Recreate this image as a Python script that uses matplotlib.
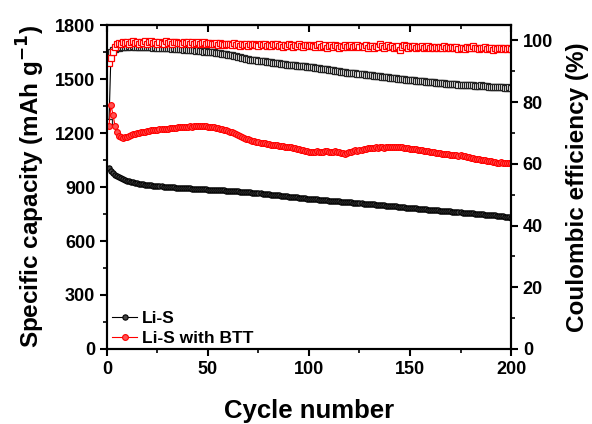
import numpy as np
import matplotlib
matplotlib.use("Agg")
import matplotlib.pyplot as plt
from matplotlib.ticker import MultipleLocator

plt.rcParams["font.family"] = ["Liberation Sans", "DejaVu Sans"]
plt.rcParams["font.weight"] = "bold"
plt.rcParams["mathtext.default"] = "bf"

cycles = np.arange(1, 201)

# discharge capacity, Li-S (mAh/g)
cap_lis = [
    1005, 990, 978, 968, 960, 953, 948, 943, 939, 935,
    932, 929, 926, 924, 921, 919, 917, 915, 913, 912,
    911, 909, 908, 906, 905, 904, 903, 902, 901, 900,
    899, 898, 898, 897, 896, 895, 895, 894, 893, 893,
    892, 891, 891, 890, 889, 889, 888, 887, 887, 886,
    885, 885, 884, 884, 883, 882, 882, 881, 880, 880,
    879, 878, 878, 877, 876, 875, 874, 873, 872, 871,
    870, 869, 868, 867, 866, 865, 863, 862, 861, 860,
    858, 857, 856, 855, 853, 852, 851, 849, 848, 847,
    846, 844, 843, 842, 841, 840, 838, 837, 836, 835,
    834, 833, 832, 831, 830, 829, 828, 827, 826, 825,
    824, 823, 822, 821, 820, 819, 818, 817, 816, 815,
    814, 813, 812, 811, 810, 809, 808, 807, 806, 805,
    804, 803, 802, 801, 800, 799, 798, 797, 796, 795,
    794, 793, 792, 791, 790, 789, 788, 786, 785, 784,
    783, 782, 781, 780, 779, 778, 777, 776, 775, 774,
    773, 772, 771, 770, 769, 768, 767, 766, 765, 764,
    763, 762, 761, 760, 759, 758, 757, 756, 755, 754,
    753, 752, 751, 750, 749, 748, 747, 746, 745, 744,
    743, 742, 741, 740, 739, 737, 736, 734, 732, 730,
]

# discharge capacity, Li-S with BTT (mAh/g)
cap_btt = [
    1240, 1355, 1300, 1240, 1205, 1185, 1176, 1174, 1176, 1180,
    1184, 1188, 1192, 1195, 1198, 1201, 1203, 1206, 1208, 1210,
    1212, 1214, 1215, 1217, 1218, 1220, 1221, 1222, 1224, 1225,
    1226, 1228, 1229, 1230, 1231, 1233, 1232, 1234, 1235, 1236,
    1237, 1236, 1238, 1239, 1238, 1240, 1239, 1237, 1238, 1236,
    1235, 1233, 1231, 1229, 1227, 1224, 1221, 1218, 1215, 1211,
    1207, 1203, 1198, 1194, 1189, 1184, 1179, 1174, 1169, 1164,
    1160, 1157, 1154, 1151, 1149, 1146, 1144, 1142, 1140, 1138,
    1136, 1135, 1133, 1131, 1130, 1128, 1127, 1125, 1123, 1121,
    1120, 1118, 1116, 1113, 1110, 1107, 1104, 1101, 1099, 1097,
    1095, 1093, 1096, 1098, 1095, 1092, 1095, 1098, 1100, 1097,
    1094, 1096, 1099, 1097, 1093, 1090, 1087, 1086, 1088, 1092,
    1096, 1100, 1103, 1101, 1105, 1108, 1112, 1110, 1114, 1117,
    1115, 1118, 1120, 1118, 1120, 1122, 1119, 1123, 1121, 1124,
    1122, 1125, 1123, 1121, 1124, 1120, 1118, 1115, 1117, 1113,
    1111, 1113, 1110, 1107, 1106, 1104, 1102, 1100, 1098, 1096,
    1094, 1092, 1090, 1089, 1087, 1085, 1084, 1082, 1081, 1079,
    1078, 1076, 1078, 1075, 1077, 1074, 1072, 1068, 1065, 1062,
    1059, 1057, 1055, 1053, 1051, 1049, 1048, 1046, 1044, 1042,
    1040, 1038, 1036, 1034, 1037, 1033, 1035, 1036, 1034, 1036,
]

# coulombic efficiency, Li-S (%)
ce_lis = [
    73.5, 96.3, 97.0, 97.3, 97.5, 97.6, 97.8, 97.9, 98.0, 98.0,
    98.1, 98.0, 98.1, 98.0, 98.0, 97.9, 98.0, 97.9, 97.8, 97.9,
    97.8, 97.8, 97.7, 97.8, 97.6, 97.7, 97.5, 97.6, 97.4, 97.5,
    97.4, 97.3, 97.4, 97.2, 97.3, 97.1, 97.2, 97.0, 97.1, 96.9,
    97.0, 96.8, 96.9, 96.7, 96.8, 96.6, 96.6, 96.4, 96.5, 96.3,
    96.3, 96.1, 96.2, 96.0, 95.9, 95.9, 95.7, 95.6, 95.6, 95.4,
    95.3, 95.2, 95.0, 94.9, 94.7, 94.6, 94.4, 94.3, 94.1, 94.0,
    93.8, 93.8, 93.6, 93.6, 93.4, 93.4, 93.2, 93.2, 93.0, 93.0,
    92.9, 92.8, 92.8, 92.6, 92.6, 92.5, 92.4, 92.4, 92.2, 92.2,
    92.1, 92.0, 92.0, 91.8, 91.8, 91.7, 91.6, 91.6, 91.5, 91.4,
    91.3, 91.3, 91.2, 91.1, 91.0, 90.9, 90.9, 90.7, 90.7, 90.5,
    90.4, 90.4, 90.2, 90.1, 90.1, 89.9, 89.8, 89.8, 89.6, 89.6,
    89.5, 89.4, 89.3, 89.2, 89.2, 89.0, 89.0, 88.9, 88.8, 88.7,
    88.7, 88.6, 88.5, 88.4, 88.4, 88.3, 88.2, 88.1, 88.1, 87.9,
    87.9, 87.8, 87.7, 87.6, 87.6, 87.5, 87.4, 87.3, 87.3, 87.2,
    87.1, 87.1, 87.0, 86.9, 86.8, 86.9, 86.7, 86.6, 86.6, 86.5,
    86.5, 86.4, 86.3, 86.3, 86.2, 86.2, 86.1, 86.0, 86.0, 85.9,
    85.9, 85.8, 85.8, 85.7, 85.7, 85.6, 85.6, 85.5, 85.5, 85.4,
    85.4, 85.3, 85.3, 85.2, 85.6, 85.2, 85.1, 85.1, 85.0, 85.0,
    85.0, 84.9, 84.9, 84.8, 84.8, 84.8, 84.7, 84.7, 85.0, 84.7,
]

# coulombic efficiency, Li-S with BTT (%)
ce_btt = [
    92.7, 94.3, 96.3, 98.0, 98.8, 99.3, 98.9, 99.6, 99.2, 99.5,
    98.9, 99.4, 99.7, 99.1, 99.5, 98.8, 99.6, 99.2, 99.8, 99.0,
    99.4, 99.7, 99.1, 99.5, 98.9, 99.6, 99.3, 99.0, 99.7, 99.2,
    99.5, 98.8, 99.4, 99.6, 99.1, 99.3, 98.9, 99.5, 99.2, 99.6,
    99.0, 99.4, 98.8, 99.3, 99.5, 98.9, 99.2, 99.4, 98.7, 99.1,
    99.3, 98.8, 99.0, 99.2, 98.6, 99.1, 98.9, 98.5, 99.0, 98.7,
    98.9, 98.4, 99.1, 98.6, 98.8, 98.3, 98.9, 98.5, 98.7, 98.2,
    98.8, 98.4, 98.9, 98.6, 98.2, 98.7, 98.5, 98.9, 98.3, 98.6,
    98.1, 98.7, 98.4, 98.8, 98.2, 98.5, 98.0, 98.6, 98.3, 98.7,
    98.4, 97.9, 98.5, 98.2, 98.8, 98.3, 97.8, 98.4, 98.6, 98.1,
    98.5, 98.2, 97.9, 98.4, 98.7, 98.0, 98.3, 98.6, 97.7, 98.2,
    98.5, 98.0, 98.4, 98.1, 97.6, 98.3, 98.0, 98.5, 97.8, 98.2,
    98.4, 97.9, 98.1, 98.6, 97.8, 98.2, 98.0, 98.4, 97.7, 98.3,
    98.1, 97.6, 98.3, 98.0, 98.7, 98.2, 97.5, 98.1, 98.4, 97.9,
    98.2, 97.7, 98.0, 98.3, 96.8, 97.9, 98.6, 98.1, 97.6, 98.2,
    97.9, 98.1, 97.6, 98.0, 97.8, 98.2, 97.5, 97.9, 98.1, 97.7,
    97.9, 97.4, 98.0, 97.7, 97.9, 97.5, 98.1, 97.6, 97.8, 97.4,
    97.8, 97.5, 97.9, 97.3, 97.7, 97.6, 97.2, 97.8, 97.5, 97.7,
    98.2, 97.4, 97.6, 97.1, 97.7, 97.5, 97.8, 97.3, 97.6, 97.4,
    96.9, 97.5, 97.2, 97.7, 97.4, 97.1, 97.6, 97.3, 97.5, 97.2,
]

fig = plt.figure(figsize=(5.92, 4.24), dpi=100)
ax = fig.add_axes([0.1807, 0.1769, 0.6825, 0.7641])
ax2 = ax.twinx()

# efficiency on the right axis (open squares)
ax2.plot(cycles, ce_lis, color="black", lw=0.8, marker="s", ms=4.5,
         mfc="white", mec="#222222", mew=0.9)
ax2.plot(cycles, ce_btt, color="red", lw=0.8, marker="s", ms=4.5,
         mfc="white", mec="red", mew=0.9)

# capacity on the left axis (circles)
ax.plot(cycles, cap_lis, color="black", lw=0.8, marker="o", ms=3.8,
        mfc="#444444", mec="black", mew=0.8, label="Li-S")
ax.plot(cycles, cap_btt, color="red", lw=0.8, marker="o", ms=4.2,
        mfc="#ff5050", mec="red", mew=0.8, label="Li-S with BTT")
ax.set_zorder(ax2.get_zorder() + 1)
ax.patch.set_visible(False)

ax.set_xlim(0, 200)
ax.set_ylim(0, 1800)
ax2.set_ylim(0, 105)
ax.xaxis.set_major_locator(MultipleLocator(50))
ax.xaxis.set_minor_locator(MultipleLocator(25))
ax.yaxis.set_major_locator(MultipleLocator(300))
ax.yaxis.set_minor_locator(MultipleLocator(150))
ax2.yaxis.set_major_locator(MultipleLocator(20))
ax2.yaxis.set_minor_locator(MultipleLocator(10))

for a in (ax, ax2):
    for s in a.spines.values():
        s.set_linewidth(1.5)
ax.tick_params(axis="both", which="major", direction="out", length=5,
               width=1.5, labelsize=13)
ax.tick_params(axis="both", which="minor", direction="out", length=3,
               width=1.2)
ax2.tick_params(axis="y", which="major", direction="out", length=5,
                width=1.5, labelsize=13)
ax2.tick_params(axis="y", which="minor", direction="out", length=3, width=1.2)

# inward ticks along the top edge
top = ax.secondary_xaxis("top")
top.xaxis.set_major_locator(MultipleLocator(50))
top.xaxis.set_minor_locator(MultipleLocator(25))
top.tick_params(which="major", direction="in", length=5, width=1.5,
                labeltop=False)
top.tick_params(which="minor", direction="in", length=3, width=1.2)
top.spines["top"].set_linewidth(1.5)

for lab in ax.get_xticklabels() + ax.get_yticklabels() + ax2.get_yticklabels():
    lab.set_fontweight("bold")

ax.set_xlabel("Cycle number", fontsize=18.5, fontweight="bold", labelpad=15)
ax.set_ylabel("Specific capacity (mAh g$^{-1}$)", fontsize=17.5,
              fontweight="bold", labelpad=6)
ax2.set_ylabel("Coulombic efficiency (%)", fontsize=17.5, fontweight="bold",
               labelpad=9)

leg = ax.legend(loc="lower left", frameon=False, handlelength=1.4,
                handletextpad=0.3, labelspacing=0.3,
                prop={"size": 12.5, "weight": "bold"},
                bbox_to_anchor=(-0.025, -0.04))

fig.savefig("out.png", dpi=100)
